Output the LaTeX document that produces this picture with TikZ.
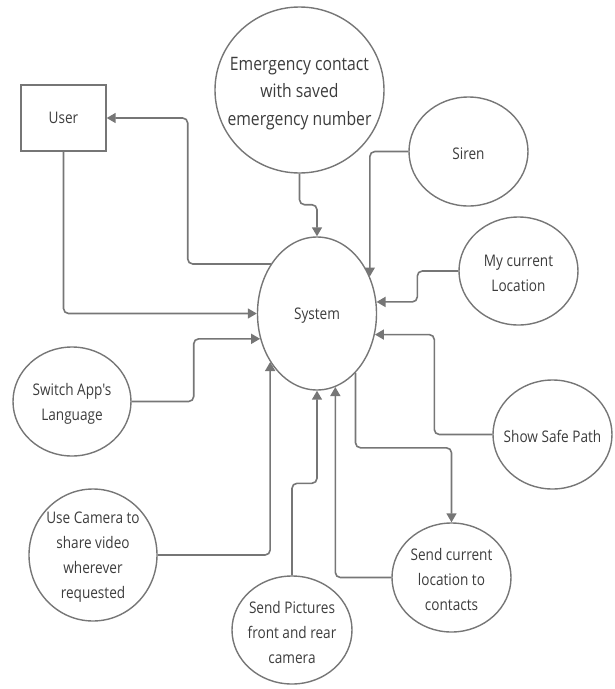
\documentclass[tikz,border=0pt]{standalone}
\usepackage{fontspec}
\setmainfont{Open Sans}[FakeStretch=0.85,Ligatures=TeXOff]
\usetikzlibrary{shapes.geometric,arrows.meta}
\definecolor{ln}{HTML}{767676}
\definecolor{tx}{HTML}{3C3C3C}
\begin{document}
\begin{tikzpicture}[x=1pt,y=-1pt,
  shp/.style={draw=ln,line width=1.4pt,text=tx,align=center,inner sep=0pt,font=\fontsize{16}{25}\selectfont},
  ell/.style={shp,ellipse,minimum width=119pt,minimum height=109pt},
  lbl/.style={text=tx,align=center,inner sep=0pt,yshift=-2pt,font=\fontsize{16}{25}\selectfont},
  arr/.style={draw=ln,line width=1.6pt,rounded corners=5pt,-{Triangle[length=9pt,width=10pt]}}]
\useasboundingbox (0,0) rectangle (614,689);
\node[shp,rectangle,minimum width=85pt,minimum height=66pt] (usr) at (63.5,118) {User};
\node[shp,ellipse,minimum width=169pt,minimum height=166pt,
  label={[lbl,yshift=-1.5pt,font=\fontsize{18.5}{27.5}\selectfont]center:Emergency contact\\with saved\\emergency number}] (em) at (299.5,90) {};
\node[shp,ellipse,minimum width=119pt,minimum height=153pt,label={[lbl]center:System}] (sys) at (317,313.5) {};
\node[ell,label={[lbl]center:Siren}] (siren) at (468.5,151.5) {};
\node[ell,minimum height=108pt,label={[lbl]center:My current\\Location}] (mcl) at (518.5,271) {};
\node[ell,minimum width=118pt,label={[lbl]center:Switch App's\\Language}] (sal) at (72,401.5) {};
\node[ell,minimum width=128pt,minimum height=132pt,label={[lbl]center:Use Camera to\\share video\\wherever\\requested}] (uc) at (93,555) {};
\node[ell,minimum width=120pt,minimum height=108pt,label={[lbl]center:Send Pictures\\front and rear\\camera}] (sp) at (292,630) {};
\node[ell,label={[lbl]center:Show Safe Path}] (ssp) at (552.5,434.5) {};
\node[ell,label={[lbl]center:Send current\\location to\\contacts}] (scl) at (451.5,577.5) {};
% connectors
\draw[arr] (sys.133.5) -| ([xshift=81pt]usr.east) -- (usr.east);
\draw[arr] (usr.south) |- (sys.west);
\draw[arr] (em.south) -- ++(0,31) -| (sys.north);
\draw[arr] (siren.west) -| (sys.35.4);
\draw[arr] (mcl.west) -- ++(-41,0) |- (sys.11.1);
\draw[arr] (ssp.west) -- ++(-58,0) |- (sys.-20.6);
\draw[arr] (sys.-57.2) -- ++(0,75) -| (scl.north);
\draw[arr] (scl.west) -| (sys.-76.9);
\draw[arr] (sp.north) -- ++(0,-92) -| (sys.south);
\draw[arr] (uc.east) -| (sys.226.5);
\draw[arr] (sal.east) -- ++(62,0) |- (sys.204.4);
\end{tikzpicture}
\end{document}
